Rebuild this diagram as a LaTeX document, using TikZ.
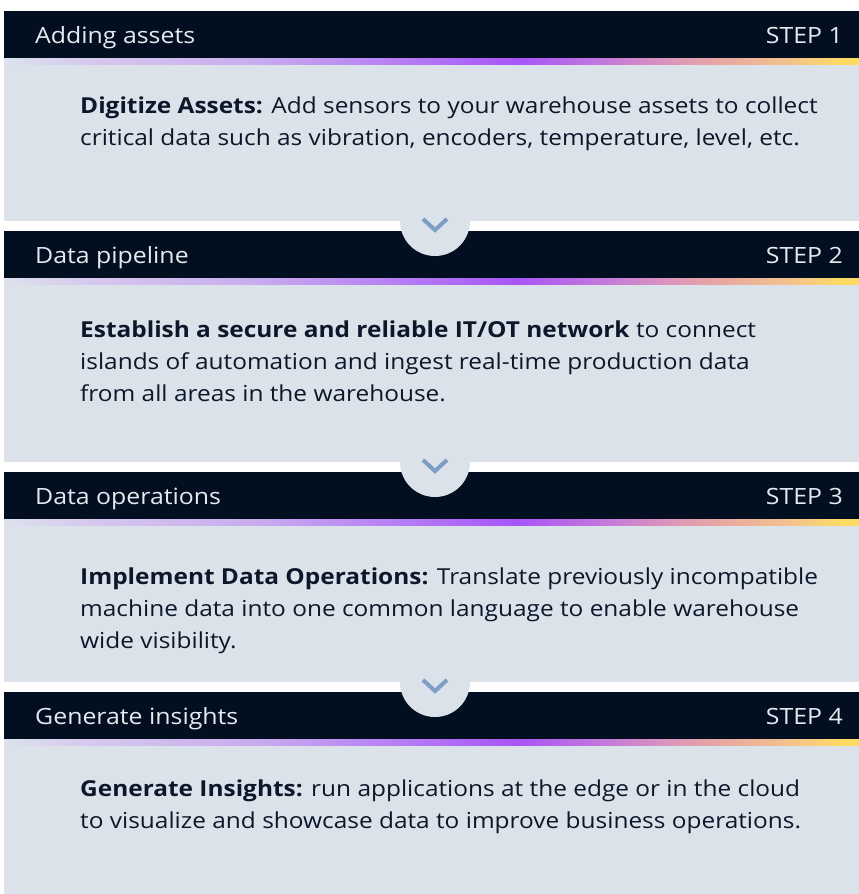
\documentclass[tikz,border=0pt]{standalone}
\usepackage{fontspec}
\setmainfont{Open Sans}[FakeStretch=1.11]
\usepackage{xcolor}
\usepackage{tikz}
\usetikzlibrary{positioning}

\definecolor{headbg}{RGB}{2,15,32}
\definecolor{bodybg}{RGB}{219,226,234}
\definecolor{headtext}{RGB}{230,234,240}
\definecolor{bodytext}{RGB}{12,24,42}
\definecolor{chevcol}{RGB}{125,157,197}
\definecolor{barA}{RGB}{220,226,236}
\definecolor{barB}{RGB}{214,200,238}
\definecolor{barC}{RGB}{200,170,238}
\definecolor{barD}{RGB}{178,115,245}
\definecolor{barE}{RGB}{168,85,247}
\definecolor{barF}{RGB}{195,120,220}
\definecolor{barG}{RGB}{220,150,185}
\definecolor{barH}{RGB}{232,168,160}
\definecolor{barI}{RGB}{243,195,140}
\definecolor{barJ}{RGB}{253,218,100}
\pgfdeclarehorizontalshading{stepbar}{100bp}{color(0bp)=(barA); color(25bp)=(barA); color(30bp)=(barB); color(40bp)=(barC); color(50bp)=(barD); color(55bp)=(barE); color(60bp)=(barF); color(64bp)=(barG); color(67bp)=(barH); color(71bp)=(barI); color(74bp)=(barJ); color(100bp)=(barJ)}

\begin{document}
\begin{tikzpicture}[
    x=1pt, y=1pt,
    head/.style={fill=headbg, minimum width=855pt, minimum height=47pt, inner sep=0pt, outer sep=0pt},
    bar/.style={shade, shading=stepbar, minimum width=855pt, minimum height=7pt, inner sep=0pt, outer sep=0pt},
    body/.style={fill=bodybg, minimum width=855pt, inner sep=0pt, outer sep=0pt},
    headtxt/.style={text=headtext, inner sep=0pt, text height=17.6pt, text depth=0pt, font=\fontsize{22.4}{26}\selectfont},
    bodytxt/.style={text=bodytext, inner sep=0pt, align=left, font=\fontsize{22}{32}\selectfont},
    bump/.style={fill=bodybg},
    chev/.style={draw=chevcol, line width=4pt}
]
\useasboundingbox (0,0) rectangle (859,-894);

% Step 1
\node[head, anchor=north west] (head1) at (4,-11) {};
\node[bar, below=0pt of head1] (bar1) {};
\node[body, minimum height=156pt, below=0pt of bar1] (body1) {};

% Step 2
\node[head, below=10pt of body1] (head2) {};
\node[bar, below=0pt of head2] (bar2) {};
\node[body, minimum height=177pt, below=0pt of bar2] (body2) {};

% Step 3
\node[head, below=10pt of body2] (head3) {};
\node[bar, below=0pt of head3] (bar3) {};
\node[body, minimum height=156pt, below=0pt of bar3] (body3) {};

% Step 4
\node[head, below=10pt of body3] (head4) {};
\node[bar, below=0pt of head4] (bar4) {};
\node[body, minimum height=148pt, below=0pt of bar4] (body4) {};

% Header labels
\node[headtxt, right=31pt of head1.west] (title1) {Adding assets};
\node[headtxt, left=16pt of head1.east] (num1) {STEP 1};
\node[headtxt, right=31pt of head2.west] (title2) {Data pipeline};
\node[headtxt, left=16pt of head2.east] (num2) {STEP 2};
\node[headtxt, right=31pt of head3.west] (title3) {Data operations};
\node[headtxt, left=16pt of head3.east] (num3) {STEP 3};
\node[headtxt, right=31pt of head4.west] (title4) {Generate insights};
\node[headtxt, left=16pt of head4.east] (num4) {STEP 4};

% Body texts
\node[bodytxt, below right=32pt and 76pt of body1.north west] (text1) {\textbf{Digitize Assets:} Add sensors to your warehouse assets to collect\\critical data such as vibration, encoders, temperature, level, etc.};
\node[bodytxt, below right=36pt and 76pt of body2.north west] (text2) {\textbf{Establish a secure and reliable IT/OT network} to connect\\islands of automation and ingest real-time production data\\from all areas in the warehouse.};
\node[bodytxt, below right=42pt and 76pt of body3.north west] (text3) {\textbf{Implement Data Operations:} Translate previously incompatible\\machine data into one common language to enable warehouse\\wide visibility.};
\node[bodytxt, below right=34pt and 76pt of body4.north west] (text4) {\textbf{Generate Insights:} run applications at the edge or in the cloud\\to visualize and showcase data to improve business operations.};

% Links between steps
\coordinate (link1) at ([xshift=3.5pt]body1.south);
\coordinate (link2) at ([xshift=3.5pt]body2.south);
\coordinate (link3) at ([xshift=3.5pt]body3.south);
\fill[bump] ([xshift=-35pt,yshift=1pt]link1) -- ([xshift=-35pt]link1) arc[start angle=180, end angle=360, radius=35pt] -- ([xshift=35pt,yshift=1pt]link1) -- cycle;
\fill[bump] ([xshift=-35pt,yshift=1pt]link2) -- ([xshift=-35pt]link2) arc[start angle=180, end angle=360, radius=35pt] -- ([xshift=35pt,yshift=1pt]link2) -- cycle;
\fill[bump] ([xshift=-35pt,yshift=1pt]link3) -- ([xshift=-35pt]link3) arc[start angle=180, end angle=360, radius=35pt] -- ([xshift=35pt,yshift=1pt]link3) -- cycle;
\draw[chev] ([xshift=-12pt,yshift=2pt]link1) -- ([yshift=-9pt]link1) -- ([xshift=12pt,yshift=2pt]link1);
\draw[chev] ([xshift=-12pt,yshift=2pt]link2) -- ([yshift=-9pt]link2) -- ([xshift=12pt,yshift=2pt]link2);
\draw[chev] ([xshift=-12pt,yshift=2pt]link3) -- ([yshift=-9pt]link3) -- ([xshift=12pt,yshift=2pt]link3);
\end{tikzpicture}
\end{document}
